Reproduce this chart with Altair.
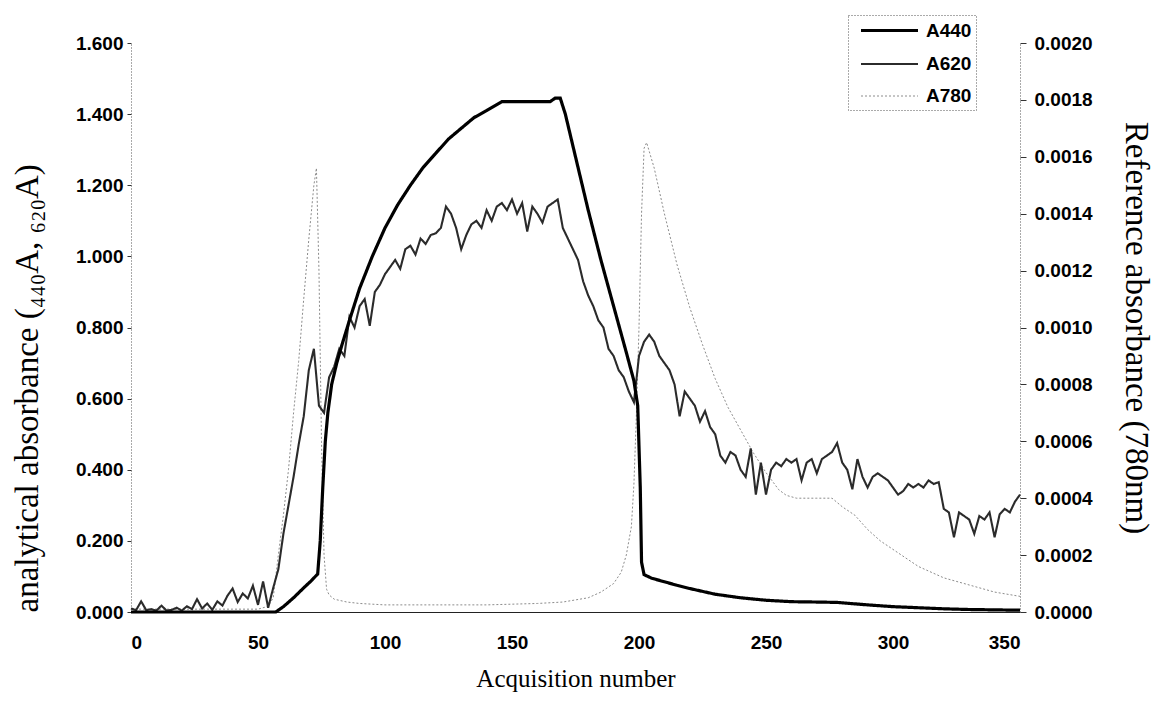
import altair as alt
import pandas as pd

series_names = ["A440", "A620", "A780"]
x_ticks = [0, 50, 100, 150, 200, 250, 300, 350]
left_ticks = [0.0, 0.2, 0.4, 0.6, 0.8, 1.0, 1.2, 1.4, 1.6]
right_ticks = [0.0, 0.0002, 0.0004, 0.0006, 0.0008, 0.0010, 0.0012, 0.0014, 0.0016, 0.0018, 0.0020]

# A440 (left axis)
x440 = [0, 57, 60, 64, 68, 71, 73.5, 74.5, 75.5, 76.5,
        77.5, 79, 81, 83, 86, 90, 95, 100, 105, 110,
        115, 120, 125, 130, 135, 140, 146, 150, 155, 160,
        165, 167, 169, 171, 175, 180, 185, 190, 195, 198,
        199.5, 200.5, 201, 202, 205, 210, 215, 220, 230, 240,
        250, 260, 270, 278, 290, 300, 310, 320, 330, 340,
        350]
a440 = [0, 0, 0.015, 0.04, 0.068, 0.088, 0.107, 0.2, 0.35, 0.48,
        0.56, 0.64, 0.70, 0.75, 0.82, 0.91, 1.0, 1.08, 1.145, 1.2,
        1.25, 1.29, 1.33, 1.36, 1.39, 1.41, 1.435, 1.435, 1.435, 1.435,
        1.435, 1.445, 1.445, 1.40, 1.28, 1.13, 0.99, 0.86, 0.73, 0.65,
        0.58, 0.35, 0.14, 0.105, 0.095, 0.085, 0.075, 0.066, 0.05, 0.04,
        0.033, 0.029, 0.028, 0.027, 0.02, 0.015, 0.012, 0.009, 0.007, 0.006,
        0.005]

# A620 (left axis), one reading every 2 acquisitions from 0 to 350
x620 = list(range(0, 351, 2))
a620 = [0.010, 0.005, 0.030, 0.005, 0.008, 0.004, 0.018, 0.004, 0.006, 0.012,
        0.004, 0.016, 0.008, 0.036, 0.010, 0.024, 0.006, 0.030, 0.018, 0.046,
        0.066, 0.028, 0.052, 0.038, 0.074, 0.020, 0.086, 0.012, 0.068, 0.120,
        0.220, 0.300, 0.380, 0.470, 0.550, 0.680, 0.740, 0.580, 0.560, 0.660,
        0.690, 0.740, 0.720, 0.830, 0.800, 0.860, 0.880, 0.805, 0.900, 0.920,
        0.950, 0.970, 0.990, 0.965, 1.020, 1.030, 1.005, 1.050, 1.035, 1.060,
        1.065, 1.080, 1.140, 1.120, 1.080, 1.020, 1.060, 1.090, 1.100, 1.080,
        1.130, 1.100, 1.140, 1.150, 1.130, 1.160, 1.120, 1.150, 1.070, 1.140,
        1.120, 1.095, 1.140, 1.150, 1.160, 1.080, 1.050, 1.020, 0.990, 0.930,
        0.890, 0.860, 0.820, 0.800, 0.740, 0.720, 0.680, 0.660, 0.620, 0.590,
        0.720, 0.760, 0.780, 0.760, 0.720, 0.700, 0.680, 0.640, 0.550, 0.620,
        0.600, 0.580, 0.535, 0.565, 0.520, 0.500, 0.440, 0.420, 0.450, 0.440,
        0.400, 0.380, 0.460, 0.330, 0.420, 0.330, 0.400, 0.420, 0.410, 0.430,
        0.420, 0.430, 0.370, 0.420, 0.430, 0.390, 0.430, 0.440, 0.450, 0.475,
        0.420, 0.400, 0.345, 0.430, 0.380, 0.350, 0.380, 0.390, 0.380, 0.370,
        0.350, 0.330, 0.340, 0.360, 0.350, 0.360, 0.350, 0.370, 0.360, 0.365,
        0.290, 0.280, 0.210, 0.280, 0.270, 0.260, 0.220, 0.270, 0.260, 0.280,
        0.210, 0.275, 0.290, 0.280, 0.310, 0.330]

# A780 (right axis)
x780 = [0, 10, 20, 30, 40, 50, 54, 56, 58, 60, 62, 64, 66, 68, 70, 72,
        73, 74, 75, 76, 77, 78, 80, 85, 90, 100, 120, 140, 160, 170, 180, 185,
        190, 193, 195, 197, 198, 199, 200, 201, 202, 203,
        206, 210, 215, 220, 225, 230, 235, 240, 245, 250,
        255, 258, 262, 270, 276, 280, 285, 290, 295, 300,
        305, 310, 320, 330, 340, 350]
a780 = [0.00001, 0.00001, 0.00001, 0.00001, 0.00001, 0.00001, 0.00002, 0.00005,
        0.00020, 0.00034, 0.00050, 0.00070, 0.00088, 0.00110, 0.00131, 0.00150,
        0.00156, 0.00120, 0.00060, 0.00020, 0.00008, 0.00006, 0.000045, 0.000035,
        0.00003, 0.000025, 0.000025, 0.000025, 0.00003, 0.000035, 0.00005, 0.00007,
        0.00010, 0.00014, 0.00020, 0.00030, 0.00045, 0.00070, 0.00100, 0.00140,
        0.00163, 0.00165,
        0.00156, 0.00140, 0.00122, 0.00107, 0.00094, 0.00082, 0.00072, 0.00064,
        0.00056, 0.00049,
        0.00043, 0.00041, 0.00040, 0.00040, 0.00040, 0.00037, 0.00034, 0.00029,
        0.00025, 0.00022,
        0.00019, 0.00016, 0.00012, 0.000095, 0.00007, 0.000055]

left_df = pd.DataFrame({
    "x": x620 + x440,
    "v": a620 + a440,
    "s": ["A620"] * len(x620) + ["A440"] * len(x440),
})
right_df = pd.DataFrame({"x": x780, "v": a780, "s": ["A780"] * len(x780)})

SANS = "Liberation Sans"
SERIF = "Liberation Serif, DejaVu Serif, serif"

xenc = alt.X(
    "x:Q",
    scale=alt.Scale(domain=[0, 350], nice=False),
    axis=alt.Axis(values=x_ticks, format="d", title="Acquisition number",
                  ticks=False, grid=False, labelPadding=21, titlePadding=14,
                  titleFontSize=25,
                  domainColor="#222", domainWidth=1.2),
)

color = alt.Color(
    "s:N",
    scale=alt.Scale(domain=series_names, range=["#000000", "#2b2b2b", "#8c8c8c"]),
    title=None,
)
swidth = alt.StrokeWidth(
    "s:N", scale=alt.Scale(domain=series_names, range=[3.2, 1.0, 1.0]), title=None
)
sdash = alt.StrokeDash(
    "s:N", scale=alt.Scale(domain=series_names, range=[[1, 0], [1, 0], [2, 2]]), title=None
)

left = alt.Chart(left_df).mark_line().encode(
    x=xenc,
    y=alt.Y("v:Q", scale=alt.Scale(domain=[0, 1.6], nice=False),
            axis=alt.Axis(orient="left", values=left_ticks, format=".3f", grid=False,
                          title="analytical absorbance (₄₄₀A, ₆₂₀A)",
                          titlePadding=31, tickSize=4, labelPadding=4,
                          titleFontSize=33, titleAnchor="start",
                          domainDash=[1, 2], domainColor="#555")),
    color=color, strokeWidth=swidth, strokeDash=sdash,
    order=alt.Order("x:Q"),
)

right = alt.Chart(right_df).mark_line().encode(
    x=xenc,
    y=alt.Y("v:Q", scale=alt.Scale(domain=[0, 0.002], nice=False),
            axis=alt.Axis(orient="right", values=right_ticks, format=".4f", grid=False,
                          title="Reference absorbance (780nm)",
                          titlePadding=26, tickSize=6, labelPadding=8,
                          titleFontSize=33,
                          domainDash=[1, 2], domainColor="#555")),
    color=color, strokeWidth=swidth, strokeDash=sdash,
    order=alt.Order("x:Q"),
)

chart = alt.layer(right, left).resolve_scale(y="independent").properties(
    width=889, height=569,
    autosize=alt.AutoSizeParams(type="none"),
    padding={"left": 123, "top": 35, "right": 136, "bottom": 80},
).configure_view(stroke=None).configure_axis(
    labelFont=SANS, labelFontSize=19, labelFontWeight="bold", labelColor="#000",
    titleFont=SERIF, titleFontWeight="normal", titleColor="#000",
    tickColor="#333",
).configure_legend(
    orient="none", legendX=717, legendY=-28,
    symbolType="M-3,0H3", symbolSize=361, symbolOffset=26,
    labelFont=SANS, labelFontSize=19, labelFontWeight="bold", labelColor="#000",
    strokeColor="#555", strokeDash=[1, 2], fillColor="white",
    padding=4, rowPadding=12, labelOffset=25,
)

chart.save("out.html", embed_options={"renderer": "svg", "actions": False})
